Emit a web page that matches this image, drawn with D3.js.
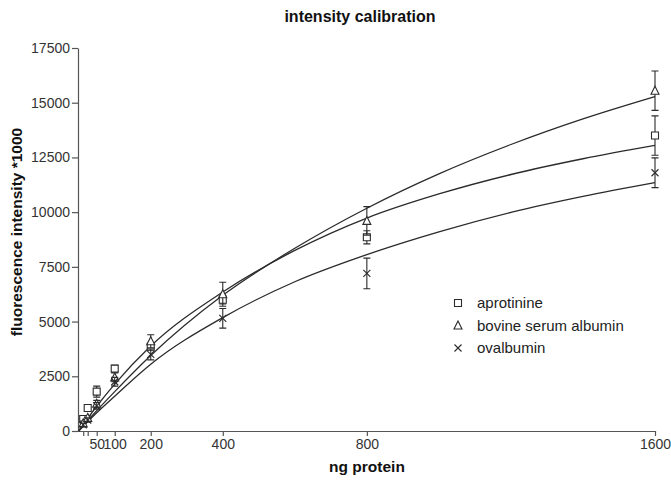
<!DOCTYPE html>
<html>
<head>
<meta charset="utf-8">
<script src="https://cdn.jsdelivr.net/npm/d3@7"></script>
<style>
    body { margin: 0; background: #fff; }
    svg { display: block; font-family: "Liberation Sans", Arial, sans-serif; }
</style>
</head>
<body>
<svg id="chart"></svg>
<script>
const concentrations = [12.5, 25, 50, 100, 200, 400, 800, 1600];

const aprotinine = [550, 1050, 1800, 2850, 3850, 6000, 8850, 13500];
const aprotinineErr = [150, 150, 250, 150, 150, 200, 300, 900];
const bsa = [350, 600, 1250, 2450, 4100, 6250, 9600, 15550];
const bsaErr = [100, 100, 150, 200, 300, 550, 650, 900];
const ovalbumin = [280, 500, 1150, 2250, 3500, 5150, 7200, 11800];
const ovalbuminErr = [80, 100, 150, 200, 250, 450, 700, 680];

// fitted curves
const curveX = [0, 50, 100, 200, 400, 600, 800, 1000, 1200, 1400, 1600];
const aprotinineFit = [0, 1130, 2140, 3880, 6350, 8250, 9730, 10830, 11720, 12440, 13050];
const bsaFit = [0, 930, 1800, 3450, 6200, 8350, 10180, 11750, 13090, 14260, 15280];
const ovalbuminFit = [0, 830, 1590, 3050, 5180, 6820, 8060, 9100, 9990, 10720, 11350];

const xTicks = [12.5, 25, 50, 100, 200, 400, 800, 1600];
const xTickLabels = ['', '', '50', '100', '200', '400', '800', '1600'];
const yTicks = [0, 2500, 5000, 7500, 10000, 12500, 15000, 17500];

const seriesNames = ['aprotinine', 'bovine serum albumin', 'ovalbumin'];
const seriesShapes = ['square', 'triangle', 'cross'];

function drawChart() {
    const width = 671;
    const height = 481;
    const ink = '#2b2b2b';

    const svg = d3.select('#chart')
        .attr('width', width)
        .attr('height', height);

    const x = d3.scaleLinear().domain([0, 1600]).range([78.7, 655]);
    const y = d3.scaleLinear().domain([0, 17500]).range([431, 48]);

    // axes
    const yAxis = svg.append('g')
        .attr('transform', 'translate(78,0)')
        .call(d3.axisLeft(y).tickValues(yTicks).tickSize(6).tickSizeOuter(0).tickFormat(d3.format('d')));

    const xAxis = svg.append('g')
        .attr('transform', 'translate(0,431)')
        .call(d3.axisBottom(x).tickValues(xTicks).tickSize(5).tickSizeOuter(0)
            .tickFormat((d, i) => xTickLabels[i]));

    [xAxis, yAxis].forEach(a => {
        a.select('.domain').attr('stroke', '#555').attr('stroke-width', 1.2);
        a.selectAll('.tick line').attr('stroke', '#555').attr('stroke-width', 1.2);
        a.selectAll('.tick text').attr('fill', '#333').attr('font-size', '14px');
    });
    yAxis.selectAll('.tick text').attr('x', -8);
    xAxis.selectAll('.tick text').attr('y', 8);
    // the domain line should start at the y axis
    xAxis.select('.domain').attr('d', `M78,0.5H${x(1600)}`);

    // fitted curves
    const line = d3.line()
        .x(d => x(d[0]))
        .y(d => y(d[1]))
        .curve(d3.curveMonotoneX);

    [aprotinineFit, bsaFit, ovalbuminFit].forEach(fit => {
        svg.append('path')
            .datum(curveX.map((c, i) => [c, fit[i]]))
            .attr('d', line)
            .attr('fill', 'none')
            .attr('stroke', ink)
            .attr('stroke-width', 1.3);
    });

    // error bars and markers
    const series = [
        { values: aprotinine, err: aprotinineErr, shape: 'square' },
        { values: bsa, err: bsaErr, shape: 'triangle' },
        { values: ovalbumin, err: ovalbuminErr, shape: 'cross' }
    ];

    series.forEach(s => {
        const pts = concentrations.map((c, i) => ({ c, v: s.values[i], e: s.err[i] }));
        const g = svg.append('g');

        g.selectAll('.err')
            .data(pts)
            .enter().append('path')
            .attr('d', d => {
                const cx = x(d.c);
                const top = y(d.v + d.e);
                const bot = y(d.v - d.e);
                return `M${cx},${top}V${bot}M${cx - 3.5},${top}H${cx + 3.5}M${cx - 3.5},${bot}H${cx + 3.5}`;
            })
            .attr('fill', 'none')
            .attr('stroke', ink)
            .attr('stroke-width', 1.1);

        g.selectAll('.mark')
            .data(pts)
            .enter().append('path')
            .attr('transform', d => `translate(${x(d.c)},${y(d.v)})`)
            .attr('d', markerPath(s.shape))
            .attr('fill', s.shape === 'cross' ? 'none' : '#fff')
            .attr('stroke', ink)
            .attr('stroke-width', 1.1);
    });

    // legend
    const legend = svg.append('g');
    seriesNames.forEach((name, i) => {
        const ly = 303 + i * 22.5;
        legend.append('path')
            .attr('transform', `translate(458,${ly})`)
            .attr('d', markerPath(seriesShapes[i]))
            .attr('fill', '#fff')
            .attr('stroke', ink)
            .attr('stroke-width', 1.1);
        legend.append('text')
            .attr('x', 477)
            .attr('y', ly + 5)
            .attr('font-size', '15px')
            .attr('fill', '#222')
            .text(name);
    });

    // titles
    svg.append('text')
        .attr('x', 360)
        .attr('y', 22)
        .attr('text-anchor', 'middle')
        .attr('font-size', '16px')
        .attr('font-weight', 'bold')
        .attr('fill', '#111')
        .text('intensity calibration');

    svg.append('text')
        .attr('x', 367)
        .attr('y', 472)
        .attr('text-anchor', 'middle')
        .attr('font-size', '15.5px')
        .attr('font-weight', 'bold')
        .attr('fill', '#111')
        .text('ng protein');

    svg.append('text')
        .attr('transform', 'translate(22,232) rotate(-90)')
        .attr('text-anchor', 'middle')
        .attr('font-size', '15.5px')
        .attr('font-weight', 'bold')
        .attr('fill', '#111')
        .text('fluorescence intensity *1000');
}

function markerPath(shape) {
    if (shape === 'square') return 'M-3.5,-3.5H3.5V3.5H-3.5Z';
    if (shape === 'triangle') return 'M0,-4.5L4,3.5H-4Z';
    return 'M-3.5,-3.5L3.5,3.5M-3.5,3.5L3.5,-3.5';
}

drawChart();
</script>
</body>
</html>
